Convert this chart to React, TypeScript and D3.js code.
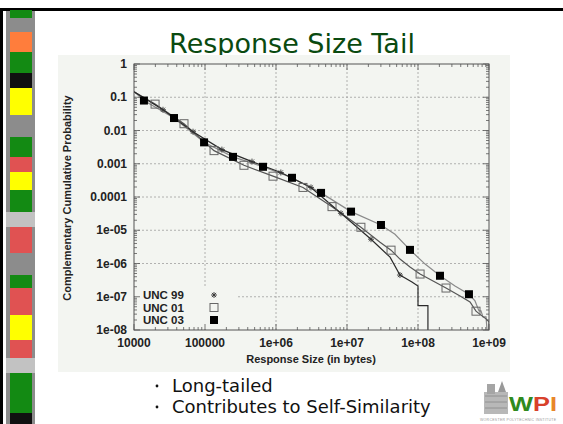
import React, { useEffect, useRef } from 'react';
import * as d3 from 'd3';

type Pt = [number, number];

// CCDF curves (response size in bytes, probability)
const unc99Line: Pt[] = [
  [1e4, 0.145], [2.56e4, 0.042], [6.78e4, 0.0092], [1.73e5, 0.00266], [4.59e5, 0.00116],
  [1.17e6, 0.000546], [3.11e6, 0.000194], [8.22e6, 3.23e-5], [2.18e7, 5.38e-6],
  [4.04e7, 1.55e-6], [5.57e7, 4.5e-7], [8.22e7, 2.77e-7], [1e8, 2.1e-7], [1e8, 5.4e-8],
  [1.38e8, 5.4e-8], [1.38e8, 1e-8]
];
const unc01Line: Pt[] = [
  [1e4, 0.145], [1.98e4, 0.0621], [5.06e4, 0.016], [1.34e5, 0.00248], [3.54e5, 0.0009],
  [9.08e5, 0.000423], [2.4e6, 0.000194], [6.15e6, 5.13e-5], [1.57e7, 1.23e-5],
  [2.92e7, 4.38e-6], [4.17e7, 2.52e-6], [5.57e7, 1.36e-6], [7.71e7, 7.8e-7], [1.07e8, 4.82e-7],
  [1.73e8, 2.77e-7], [2.48e8, 1.83e-7], [3.91e8, 1.06e-7], [5.4e8, 7.0e-8], [6.56e8, 3.68e-8],
  [7.96e8, 2.66e-8], [9.08e8, 2.16e-8], [1e9, 1.76e-8], [1e9, 1e-8]
];
const unc03Line: Pt[] = [
  [1e4, 0.15], [1.38e4, 0.0796], [3.66e4, 0.0237], [9.7e4, 0.0044], [2.48e5, 0.00161],
  [6.56e5, 0.00081], [1.68e6, 0.000378], [4.31e6, 0.000133], [1.14e7, 3.63e-5],
  [3.01e7, 1.44e-5], [4.74e7, 7.6e-6], [7.71e7, 2.57e-6], [1.26e8, 9.6e-7], [2.04e8, 4.28e-7],
  [3.32e8, 2.1e-7], [5.22e8, 1.19e-7], [6.35e8, 7.5e-8], [7.23e8, 3.76e-8], [7.71e8, 3.76e-8],
  [8.22e8, 2.48e-8], [9.08e8, 2.48e-8], [9.38e8, 1e-8]
];

// point markers along each curve
const unc99Marks: Pt[] = [
  [2.56e4, 0.042], [6.78e4, 0.0092], [1.73e5, 0.00266], [4.59e5, 0.00116], [1.17e6, 0.000546],
  [3.11e6, 0.000194], [8.22e6, 3.23e-5], [2.18e7, 5.38e-6], [5.57e7, 4.5e-7]
];
const unc01Marks: Pt[] = [
  [1.98e4, 0.0621], [5.06e4, 0.016], [1.34e5, 0.00248], [3.54e5, 0.0009], [9.08e5, 0.000423],
  [2.4e6, 0.000194], [6.15e6, 5.13e-5], [1.57e7, 1.23e-5], [4.17e7, 2.52e-6], [1.07e8, 4.82e-7],
  [2.48e8, 1.83e-7], [6.56e8, 3.68e-8]
];
const unc03Marks: Pt[] = [
  [1.38e4, 0.0796], [3.66e4, 0.0237], [9.7e4, 0.0044], [2.48e5, 0.00161], [6.56e5, 0.00081],
  [1.68e6, 0.000378], [4.31e6, 0.000133], [1.14e7, 3.63e-5], [3.01e7, 1.44e-5], [7.71e7, 2.57e-6],
  [2.04e8, 4.28e-7], [5.22e8, 1.19e-7]
];

const seriesNames = ['UNC 99', 'UNC 01', 'UNC 03'];

const xTicks = [1e4, 1e5, 1e6, 1e7, 1e8, 1e9];
const xTickLabels = ['10000', '100000', '1e+06', '1e+07', '1e+08', '1e+09'];
const yTicks = [1, 0.1, 0.01, 0.001, 0.0001, 1e-5, 1e-6, 1e-7, 1e-8];
const yTickLabels = ['1', '0.1', '0.01', '0.001', '0.0001', '1e-05', '1e-06', '1e-07', '1e-08'];

const bullets = ['Long-tailed', 'Contributes to Self-Similarity'];

// decorative slide strip on the left: [top, bottom, colour]
const stripBlocks: [number, number, string][] = [
  [10, 18, '#138a13'], [32, 52, '#ff7d3c'], [52, 73, '#138a13'], [73, 88, '#101010'],
  [88, 115, '#ffff00'], [137, 157, '#138a13'], [157, 172, '#e05252'], [172, 190, '#ffff00'],
  [190, 212, '#138a13'], [212, 227, '#c2c2c2'], [227, 253, '#e05252'], [275, 288, '#138a13'],
  [288, 315, '#e05252'], [315, 340, '#ffff00'], [340, 358, '#e05252'], [358, 373, '#c2c2c2'],
  [373, 413, '#138a13'], [413, 424, '#101010']
];

const W = 563;
const H = 424;

const App: React.FC = () => {
  const svgRef = useRef<SVGSVGElement>(null);

  useEffect(() => {
    const svg = d3.select(svgRef.current);
    svg.selectAll('*').remove();

    const left = 134, right = 489, top = 64, bottom = 330;
    const sans = '"Liberation Sans", Arial, sans-serif';
    const slideFont = '"DejaVu Sans", sans-serif';

    const x = d3.scaleLog().domain([1e4, 1e9]).range([left, right]);
    const y = d3.scaleLog().domain([1, 1e-8]).range([top, bottom]);

    svg.append('rect').attr('width', W).attr('height', H).attr('fill', '#ffffff');

    // slide frame + strip
    svg.append('rect').attr('x', 0).attr('y', 8).attr('width', W).attr('height', 3).attr('fill', '#000');
    svg.append('rect').attr('x', 0).attr('y', 8).attr('width', 3).attr('height', H - 8).attr('fill', '#000');
    svg.append('rect').attr('x', 6).attr('y', 11).attr('width', 29).attr('height', H - 11).attr('fill', '#8c8c8c');
    svg.selectAll('.blk')
      .data(stripBlocks)
      .enter().append('rect')
      .attr('x', d => (d[2] === '#c2c2c2' ? 6 : 10))
      .attr('width', d => (d[2] === '#c2c2c2' ? 29 : 22))
      .attr('y', d => d[0])
      .attr('height', d => d[1] - d[0])
      .attr('fill', d => d[2]);

    // title
    svg.append('text')
      .attr('x', 292).attr('y', 53)
      .attr('text-anchor', 'middle')
      .style('font-family', slideFont)
      .style('font-size', '27px')
      .attr('fill', '#0a4a10')
      .text('Response Size Tail');

    // chart picture background
    svg.append('rect').attr('x', 58).attr('y', 55).attr('width', 452).attr('height', 317).attr('fill', '#f3f5f1');

    const g = svg.append('g');

    // grid
    const grid = g.append('g').attr('stroke', '#a0a0a0').attr('stroke-width', 0.8).attr('stroke-dasharray', '2,2');
    xTicks.slice(1, -1).forEach(t => {
      grid.append('line').attr('x1', x(t)).attr('x2', x(t)).attr('y1', top).attr('y2', bottom);
    });
    yTicks.slice(1, -1).forEach(t => {
      grid.append('line').attr('x1', left).attr('x2', right).attr('y1', y(t)).attr('y2', y(t));
    });

    // legend backdrop hides the grid
    g.append('rect').attr('x', left + 1).attr('y', 287).attr('width', 102).attr('height', bottom - 288).attr('fill', '#f3f5f1');

    // curves
    svg.append('clipPath').attr('id', 'plotclip')
      .append('rect').attr('x', left).attr('y', top).attr('width', right - left).attr('height', bottom - top);

    const line = d3.line<Pt>().x(d => x(d[0])).y(d => y(d[1]));
    const curves: [Pt[], string][] = [
      [unc03Line, '#8a8a8a'],
      [unc01Line, '#555555'],
      [unc99Line, '#2a2a2a']
    ];
    const cg = g.append('g').attr('clip-path', 'url(#plotclip)');
    curves.forEach(([data, color]) => {
      cg.append('path').attr('d', line(data)).attr('fill', 'none').attr('stroke', color).attr('stroke-width', 1.2);
    });

    // markers
    const star = (sel: d3.Selection<SVGGElement, unknown, null, undefined>, cx: number, cy: number) => {
      const s = 3;
      return sel.append('path')
        .attr('d', `M${cx - s},${cy}H${cx + s}M${cx},${cy - s}V${cy + s}M${cx - s * 0.7},${cy - s * 0.7}L${cx + s * 0.7},${cy + s * 0.7}M${cx - s * 0.7},${cy + s * 0.7}L${cx + s * 0.7},${cy - s * 0.7}`)
        .attr('stroke', '#333').attr('stroke-width', 0.9).attr('fill', 'none');
    };
    const openSq = (sel: d3.Selection<SVGGElement, unknown, null, undefined>, cx: number, cy: number) =>
      sel.append('rect').attr('x', cx - 4).attr('y', cy - 4).attr('width', 8).attr('height', 8)
        .attr('fill', 'none').attr('stroke', '#666').attr('stroke-width', 1);
    const fillSq = (sel: d3.Selection<SVGGElement, unknown, null, undefined>, cx: number, cy: number) =>
      sel.append('rect').attr('x', cx - 4).attr('y', cy - 4).attr('width', 8).attr('height', 8).attr('fill', '#000');

    const mg = g.append('g');
    unc99Marks.forEach(d => star(mg, x(d[0]), y(d[1])));
    unc01Marks.forEach(d => openSq(mg, x(d[0]), y(d[1])));
    unc03Marks.forEach(d => fillSq(mg, x(d[0]), y(d[1])));

    // border
    g.append('rect').attr('x', left).attr('y', top).attr('width', right - left).attr('height', bottom - top)
      .attr('fill', 'none').attr('stroke', '#555').attr('stroke-width', 1);

    // ticks (inward, mirrored), major + minor
    const tg = g.append('g').attr('stroke', '#555').attr('stroke-width', 0.8);
    const minorOf = (d0: number, d1: number) => {
      const out: number[] = [];
      for (let e = d0; e < d1; e *= 10) for (let k = 2; k <= 9; k++) out.push(e * k);
      return out;
    };
    xTicks.forEach(t => {
      tg.append('line').attr('x1', x(t)).attr('x2', x(t)).attr('y1', bottom).attr('y2', bottom - 6);
      tg.append('line').attr('x1', x(t)).attr('x2', x(t)).attr('y1', top).attr('y2', top + 6);
    });
    minorOf(1e4, 1e9).forEach(t => {
      tg.append('line').attr('x1', x(t)).attr('x2', x(t)).attr('y1', bottom).attr('y2', bottom - 3);
      tg.append('line').attr('x1', x(t)).attr('x2', x(t)).attr('y1', top).attr('y2', top + 3);
    });
    yTicks.forEach(t => {
      tg.append('line').attr('x1', left).attr('x2', left + 6).attr('y1', y(t)).attr('y2', y(t));
      tg.append('line').attr('x1', right).attr('x2', right - 6).attr('y1', y(t)).attr('y2', y(t));
    });
    minorOf(1e-8, 1).forEach(t => {
      tg.append('line').attr('x1', left).attr('x2', left + 3).attr('y1', y(t)).attr('y2', y(t));
      tg.append('line').attr('x1', right).attr('x2', right - 3).attr('y1', y(t)).attr('y2', y(t));
    });

    // tick labels
    const lab = g.append('g').style('font-family', sans).style('font-weight', 'bold').style('font-size', '12px').attr('fill', '#222');
    xTicks.forEach((t, i) => {
      lab.append('text').attr('x', x(t)).attr('y', 347).attr('text-anchor', 'middle').text(xTickLabels[i]);
    });
    yTicks.forEach((t, i) => {
      lab.append('text').attr('x', 127).attr('y', y(t)).attr('dy', '0.35em').attr('text-anchor', 'end').text(yTickLabels[i]);
    });

    // axis titles
    g.append('text')
      .attr('x', 311).attr('y', 363)
      .attr('text-anchor', 'middle')
      .style('font-family', sans).style('font-weight', 'bold').style('font-size', '11px')
      .attr('fill', '#222')
      .text('Response Size (in bytes)');
    g.append('text')
      .attr('transform', 'translate(71,198) rotate(-90)')
      .attr('text-anchor', 'middle')
      .style('font-family', sans).style('font-weight', 'bold').style('font-size', '11px')
      .attr('fill', '#222')
      .text('Complementary Cumulative Probability');

    // legend
    const lg = g.append('g');
    const markers = [star, openSq, fillSq];
    seriesNames.forEach((name, i) => {
      const ly = 295 + i * 12.5;
      lg.append('text').attr('x', 143).attr('y', ly).attr('dy', '0.35em')
        .style('font-family', sans).style('font-weight', 'bold').style('font-size', '11.5px')
        .attr('fill', '#222').text(name);
      markers[i](lg, 214, ly);
    });

    // bullets
    bullets.forEach((b, i) => {
      const by = 392 + i * 21;
      svg.append('circle').attr('cx', 157).attr('cy', by - 6).attr('r', 1.4).attr('fill', '#111');
      svg.append('text').attr('x', 172).attr('y', by)
        .style('font-family', slideFont).style('font-size', '18px')
        .attr('fill', '#111').text(b);
    });

    // WPI logo
    const logo = svg.append('g');
    logo.append('rect').attr('x', 484).attr('y', 392).attr('width', 24).attr('height', 22).attr('fill', '#b8b8b8');
    logo.append('rect').attr('x', 487).attr('y', 384).attr('width', 8).attr('height', 10).attr('fill', '#a5a5a5');
    logo.append('path').attr('d', 'M498,392 L502,381 L506,392 Z').attr('fill', '#999');
    [396, 402, 408].forEach(yy => {
      logo.append('line').attr('x1', 485).attr('x2', 507).attr('y1', yy).attr('y2', yy).attr('stroke', '#888').attr('stroke-width', 0.8);
    });
    const wt = logo.append('text').attr('x', 509).attr('y', 411)
      .attr('textLength', 48).attr('lengthAdjust', 'spacingAndGlyphs')
      .style('font-family', sans).style('font-weight', 'bold').style('font-size', '21px');
    wt.append('tspan').attr('fill', '#2f8a1e').text('W');
    wt.append('tspan').attr('fill', '#d8412c').text('P');
    wt.append('tspan').attr('fill', '#e8862a').text('I');
    logo.append('text').attr('x', 480).attr('y', 421).attr('textLength', 76)
      .style('font-family', sans).style('font-size', '3.5px').attr('fill', '#999')
      .text('WORCESTER POLYTECHNIC INSTITUTE');
  }, []);

  return (
    <svg
      ref={svgRef}
      width={W}
      height={H}
      style={{ position: 'absolute', left: 0, top: 0, display: 'block' }}
    />
  );
};

export default App;
